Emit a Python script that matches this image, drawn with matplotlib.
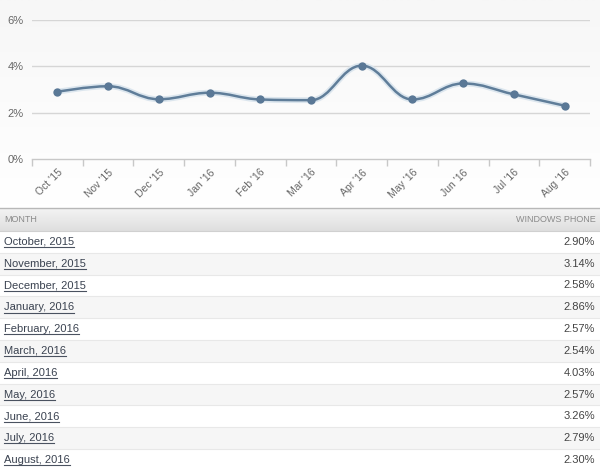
import matplotlib
matplotlib.use("Agg")
import matplotlib.pyplot as plt
import numpy as np
from matplotlib.path import Path
from matplotlib.patches import PathPatch, Rectangle

plt.rcParams['font.family'] = ['Liberation Sans', 'DejaVu Sans']

# ---- data ----
tick_labels = ["Oct '15", "Nov '15", "Dec '15", "Jan '16", "Feb '16", "Mar '16",
               "Apr '16", "May '16", "Jun '16", "Jul '16", "Aug '16"]
months = ["October, 2015", "November, 2015", "December, 2015", "January, 2016",
          "February, 2016", "March, 2016", "April, 2016", "May, 2016",
          "June, 2016", "July, 2016", "August, 2016"]
values = [2.90, 3.14, 2.58, 2.86, 2.57, 2.54, 4.03, 2.57, 3.26, 2.79, 2.30]
y_ticks = [0, 2, 4, 6]
header_left = "MONTH"
header_right = "WINDOWS PHONE"

W, H = 600, 470
fig = plt.figure(figsize=(W / 100, H / 100), dpi=100)
fig.patch.set_facecolor("white")

# background / table axes in pixel coordinates
bg = fig.add_axes([0, 0, 1, 1])
bg.set_xlim(0, W)
bg.set_ylim(H, 0)
bg.axis("off")

# subtle gradient for the chart area
grad = np.linspace(0, 1, 100).reshape(-1, 1)
bg.imshow(grad, extent=(0, W, 205, 0), cmap=matplotlib.colors.LinearSegmentedColormap.from_list(
    "g", ["#f7f7f7", "#ffffff"]), aspect="auto", zorder=0)

# header
hdr_top, hdr_bot = 208, 231
hgrad = np.linspace(0, 1, 50).reshape(-1, 1)
bg.imshow(hgrad, extent=(0, W, hdr_bot, hdr_top), cmap=matplotlib.colors.LinearSegmentedColormap.from_list(
    "h", ["#f4f4f4", "#dedede"]), aspect="auto", zorder=1)
bg.plot([0, W], [hdr_top, hdr_top], color="#b8b8b8", lw=1, zorder=2)
bg.plot([0, W], [hdr_bot, hdr_bot], color="#d0d0d0", lw=0.8, zorder=2)
bg.text(4, (hdr_top + hdr_bot) / 2 + 0.5, header_left, fontsize=6.5, color="#8a8a8a",
        ha="left", va="center", zorder=3)
bg.text(596, (hdr_top + hdr_bot) / 2 + 0.5, header_right, fontsize=6.5, color="#8a8a8a",
        ha="right", va="center", zorder=3)

row_h = 21.8
texts = []
for i, (m, v) in enumerate(zip(months, values)):
    top = hdr_bot + i * row_h
    color = "#ffffff" if i % 2 == 0 else "#f6f6f6"
    bg.add_patch(Rectangle((0, top), W, row_h, facecolor=color, edgecolor="none", zorder=1))
    bg.plot([0, W], [top + row_h, top + row_h], color="#e8e8e8", lw=0.8, zorder=2)
    cy = top + row_h / 2
    t = bg.text(4, cy, m, fontsize=8, color="#3a4250", ha="left", va="center", zorder=3)
    texts.append((t, cy))
    bg.text(595, cy, f"{v:.2f}%", fontsize=8, color="#444444", ha="right", va="center", zorder=3)

# underline the month links
fig.canvas.draw()
renderer = fig.canvas.get_renderer()
inv = bg.transData.inverted()
for t, cy in texts:
    bb = t.get_window_extent(renderer)
    (x0, y0), (x1, y1) = inv.transform([(bb.x0, bb.y0), (bb.x1, bb.y1)])
    bg.plot([x0, x1], [cy + 5.3, cy + 5.3], color="#4a5260", lw=0.8, zorder=3)

# ---- chart axes ----
left, right = 32, 590
top_px, bot_px = 20, 159
ax = fig.add_axes([left / W, 1 - bot_px / H, (right - left) / W, (bot_px - top_px) / H])
ax.patch.set_alpha(0)
n = len(values)
x = np.arange(n)
ax.set_xlim(-0.5, n - 0.5)
ax.set_ylim(0, 6)

for s in ["top", "right", "left"]:
    ax.spines[s].set_visible(False)
ax.spines["bottom"].set_color("#c8c8c8")
ax.spines["bottom"].set_linewidth(1)

ax.set_yticks(y_ticks)
ax.set_yticklabels([f"{t}%" for t in y_ticks], fontsize=8, color="#666666")
ax.tick_params(axis="y", length=0, pad=6)
for t in y_ticks[1:]:
    ax.axhline(t, color="#d6d6d6", lw=1, zorder=1)

ax.set_xticks(x)
ax.set_xticklabels(tick_labels, rotation=45, ha="right", rotation_mode="anchor",
                   fontsize=7.5, color="#666666")
ax.tick_params(axis="x", length=0, pad=6)
ax.set_xticks(np.arange(-0.5, n, 1.0), minor=True)
ax.tick_params(axis="x", which="minor", length=5, color="#c8c8c8", width=1)

# Highcharts-style spline through the data points
def spline_path(xs, ys, smoothing=1.5):
    denom = smoothing + 1
    verts = [(xs[0], ys[0])]
    codes = [Path.MOVETO]
    ctrl = []
    for i in range(len(xs)):
        if 0 < i < len(xs) - 1:
            px, py = xs[i - 1], ys[i - 1]
            nx, ny = xs[i + 1], ys[i + 1]
            lcx = (smoothing * xs[i] + px) / denom
            lcy = (smoothing * ys[i] + py) / denom
            rcx = (smoothing * xs[i] + nx) / denom
            rcy = (smoothing * ys[i] + ny) / denom
            corr = ((rcy - lcy) * (rcx - xs[i])) / (rcx - lcx) + ys[i] - rcy
            lcy += corr
            rcy += corr
            if lcy > max(py, ys[i]):
                lcy = max(py, ys[i]); rcy = 2 * ys[i] - lcy
            elif lcy < min(py, ys[i]):
                lcy = min(py, ys[i]); rcy = 2 * ys[i] - lcy
            if rcy > max(ny, ys[i]):
                rcy = max(ny, ys[i]); lcy = 2 * ys[i] - rcy
            elif rcy < min(ny, ys[i]):
                rcy = min(ny, ys[i]); lcy = 2 * ys[i] - rcy
            ctrl.append(((lcx, lcy), (rcx, rcy)))
        else:
            ctrl.append(((xs[i], ys[i]), (xs[i], ys[i])))
    for i in range(1, len(xs)):
        verts += [ctrl[i - 1][1], ctrl[i][0], (xs[i], ys[i])]
        codes += [Path.CURVE4] * 3
    return Path(verts, codes)

p = spline_path(list(x.astype(float)), values)
ax.add_patch(PathPatch(p, facecolor="none", edgecolor="#dce6ee", lw=4.2, zorder=2,
                       capstyle="round", joinstyle="round"))
ax.add_patch(PathPatch(p, facecolor="none", edgecolor="#5f7d99", lw=1.8, zorder=3,
                       capstyle="round", joinstyle="round"))
ax.plot(x, values, "o", color="#5a7896", markersize=6, zorder=4, markeredgewidth=0)

fig.savefig("out.png", dpi=100)
